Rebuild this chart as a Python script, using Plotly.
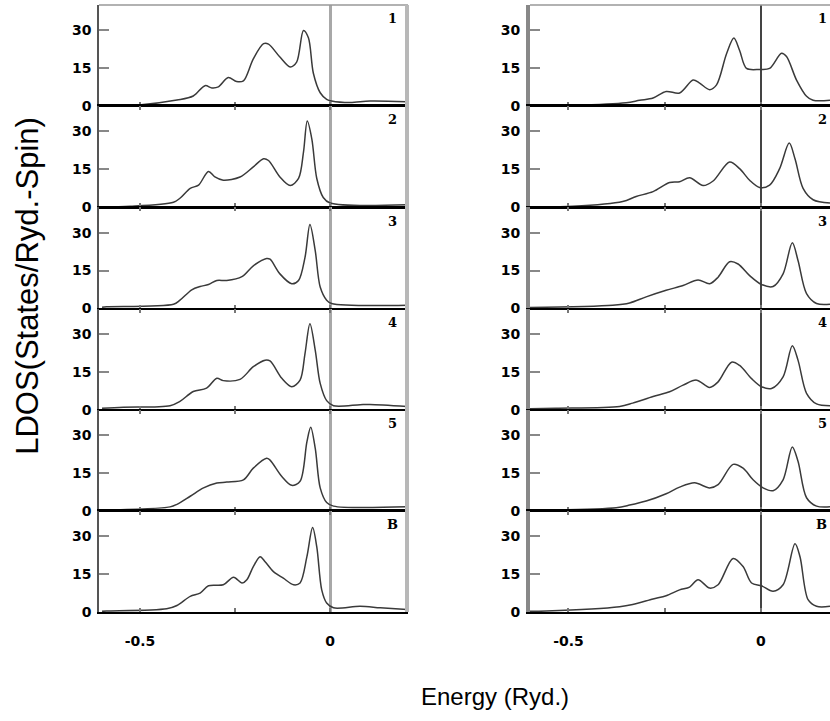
import plotly.graph_objects as go

# ---------------- data ----------------
panel_labels = ["1", "2", "3", "4", "5", "B"]
y_tick_vals = [0, 15, 30]
y_tick_text = ["0", "15", "30"]
x_tick_vals = [-0.5, -0.25, 0]
x_tick_text = ["-0.5", "", "0"]

# left column (six panels)
e_L1 = [-0.60, -0.509, -0.403, -0.360, -0.329, -0.311, -0.294, -0.268, -0.246, -0.228, -0.202, -0.175, -0.162, -0.132, -0.105, -0.088, -0.070, -0.057, -0.044, -0.026, -0.009, 0.004, 0.053, 0.105, 0.202]
d_L1 = [0.2, 0.4, 2.4, 4.0, 8.1, 7.2, 7.6, 11.3, 9.7, 10.0, 18.7, 24.7, 24.5, 19.4, 15.5, 17.4, 29.9, 27.0, 13.0, 5.3, 2.7, 2.0, 1.4, 2.0, 1.7]

e_L2 = [-0.60, -0.526, -0.412, -0.395, -0.368, -0.346, -0.320, -0.303, -0.281, -0.237, -0.202, -0.175, -0.162, -0.132, -0.105, -0.083, -0.070, -0.060, -0.048, -0.035, -0.018, 0.0, 0.202]
d_L2 = [0.2, 0.4, 2.0, 3.6, 7.5, 8.8, 14.2, 12.0, 10.7, 12.0, 16.0, 19.2, 18.5, 12.0, 8.6, 11.4, 21.8, 34.1, 27.0, 11.4, 3.9, 1.7, 1.0]

e_L3 = [-0.60, -0.588, -0.412, -0.395, -0.364, -0.342, -0.320, -0.298, -0.272, -0.232, -0.202, -0.167, -0.158, -0.132, -0.101, -0.083, -0.066, -0.053, -0.039, -0.026, -0.009, 0.004, 0.202]
d_L3 = [0.5, 0.7, 1.7, 3.3, 7.4, 8.7, 9.5, 11.1, 11.1, 12.6, 16.9, 19.8, 19.5, 13.7, 9.8, 11.1, 20.2, 33.2, 22.8, 8.5, 3.3, 2.0, 1.3]

e_L4 = [-0.60, -0.544, -0.421, -0.395, -0.360, -0.325, -0.298, -0.281, -0.237, -0.202, -0.171, -0.158, -0.127, -0.101, -0.079, -0.066, -0.053, -0.039, -0.026, -0.009, 0.009, 0.079, 0.105, 0.202]
d_L4 = [0.6, 1.0, 1.6, 3.3, 7.2, 8.5, 12.4, 11.5, 12.0, 17.0, 19.6, 19.3, 12.4, 9.1, 11.7, 22.2, 34.0, 23.5, 10.4, 3.6, 1.6, 2.0, 2.1, 1.3]

e_L5 = [-0.605, -0.421, -0.403, -0.368, -0.333, -0.298, -0.272, -0.228, -0.202, -0.167, -0.158, -0.127, -0.101, -0.079, -0.061, -0.051, -0.039, -0.026, -0.009, 0.009, 0.202]
d_L5 = [0.3, 1.6, 2.6, 5.8, 9.1, 11.0, 11.4, 12.3, 16.9, 20.8, 20.1, 13.6, 10.1, 11.7, 27.3, 33.1, 24.7, 9.1, 3.3, 1.9, 1.6]

e_L6 = [-0.60, -0.588, -0.430, -0.403, -0.368, -0.342, -0.320, -0.281, -0.254, -0.232, -0.219, -0.202, -0.184, -0.171, -0.149, -0.123, -0.096, -0.079, -0.061, -0.046, -0.035, -0.022, -0.009, 0.009, 0.079, 0.132, 0.202]
d_L6 = [0.3, 0.4, 1.3, 2.6, 6.2, 7.5, 10.4, 10.8, 13.8, 11.5, 12.8, 18.0, 21.9, 19.9, 16.0, 13.4, 10.8, 11.5, 21.9, 33.4, 25.8, 8.8, 3.6, 1.7, 2.3, 1.7, 1.0]

# right column (six panels)
e_R1 = [-0.60, -0.489, -0.350, -0.315, -0.280, -0.246, -0.211, -0.176, -0.159, -0.133, -0.115, -0.089, -0.070, -0.055, -0.037, -0.003, 0.023, 0.054, 0.067, 0.093, 0.119, 0.136, 0.180]
d_R1 = [0.2, 0.3, 1.3, 2.3, 3.2, 5.8, 5.2, 10.3, 9.1, 6.5, 8.4, 20.7, 26.9, 22.0, 14.9, 14.5, 14.9, 20.9, 19.6, 10.3, 3.9, 2.3, 2.3]

e_R2 = [-0.60, -0.489, -0.359, -0.324, -0.280, -0.237, -0.211, -0.185, -0.150, -0.124, -0.081, -0.055, -0.029, -0.003, 0.023, 0.049, 0.074, 0.089, 0.110, 0.136, 0.180]
d_R2 = [0.2, 0.4, 2.3, 4.3, 6.2, 9.8, 10.1, 11.7, 8.6, 10.4, 17.9, 15.3, 10.7, 7.8, 8.8, 15.3, 25.4, 19.2, 7.5, 3.0, 1.7]

e_R3 = [-0.60, -0.385, -0.341, -0.298, -0.246, -0.202, -0.163, -0.133, -0.111, -0.081, -0.059, -0.029, 0.002, 0.032, 0.058, 0.082, 0.097, 0.119, 0.145, 0.180]
d_R3 = [0.4, 1.3, 2.2, 4.6, 7.2, 9.1, 11.3, 9.8, 12.4, 18.5, 17.6, 13.0, 9.5, 8.7, 13.7, 26.0, 18.9, 5.9, 2.0, 1.7]

e_R4 = [-0.60, -0.532, -0.367, -0.333, -0.280, -0.237, -0.202, -0.167, -0.133, -0.111, -0.076, -0.055, -0.024, 0.002, 0.028, 0.058, 0.082, 0.097, 0.119, 0.145, 0.180]
d_R4 = [0.4, 0.6, 1.3, 2.6, 5.2, 7.1, 9.7, 11.7, 8.8, 11.0, 18.8, 17.5, 12.3, 9.1, 8.4, 13.0, 25.3, 19.5, 6.5, 2.3, 1.6]

e_R5 = [-0.60, -0.558, -0.376, -0.341, -0.298, -0.246, -0.211, -0.172, -0.133, -0.111, -0.072, -0.046, -0.020, 0.006, 0.032, 0.058, 0.082, 0.097, 0.119, 0.145, 0.180]
d_R5 = [0.2, 0.3, 1.3, 2.3, 3.9, 6.8, 9.4, 11.1, 9.1, 10.4, 18.4, 16.9, 12.3, 9.1, 8.0, 12.3, 25.3, 19.5, 5.2, 1.9, 1.6]

e_R6 = [-0.60, -0.558, -0.367, -0.333, -0.280, -0.246, -0.211, -0.185, -0.163, -0.133, -0.111, -0.072, -0.046, -0.024, 0.002, 0.032, 0.058, 0.089, 0.102, 0.123, 0.145, 0.180]
d_R6 = [0.3, 0.4, 2.1, 3.0, 5.2, 6.5, 8.8, 9.9, 12.8, 9.5, 10.8, 21.2, 18.0, 11.5, 10.4, 8.2, 10.8, 27.0, 21.9, 4.9, 2.3, 2.3]

left_series = [(e_L1, d_L1), (e_L2, d_L2), (e_L3, d_L3), (e_L4, d_L4), (e_L5, d_L5), (e_L6, d_L6)]
right_series = [(e_R1, d_R1), (e_R2, d_R2), (e_R3, d_R3), (e_R4, d_R4), (e_R5, d_R5), (e_R6, d_R6)]

# ---------------- layout geometry ----------------
W, H = 830, 721
TOP = 5.0
PH = 102.33
LEFT_X = (99, 408)
RIGHT_X = (530, 830)
LEFT_RANGE = [-0.608, 0.205]
RIGHT_RANGE = [-0.6, 0.18]
Y_RANGE = [0, 40]

tick_font = dict(family="DejaVu Sans", size=14, color="black", weight="bold")
label_font = dict(family="DejaVu Serif", size=13, color="black", weight="bold")

fig = go.Figure()
layout = dict(
    width=W, height=H,
    margin=dict(l=0, r=0, t=0, b=0, pad=0),
    paper_bgcolor="white", plot_bgcolor="white",
    showlegend=False,
)
annotations = []
shapes = []


def ydom(r):
    return [1 - (TOP + (r + 1) * PH) / H, 1 - (TOP + r * PH) / H]


for col, (series, xpx, xr) in enumerate([(left_series, LEFT_X, LEFT_RANGE),
                                         (right_series, RIGHT_X, RIGHT_RANGE)]):
    for r, (ex, dy) in enumerate(series):
        n = col * 6 + r + 1
        xa = "x" if n == 1 else f"x{n}"
        ya = "y" if n == 1 else f"y{n}"
        fig.add_trace(go.Scatter(
            x=ex, y=dy, mode="lines", xaxis=xa, yaxis=ya,
            line=dict(color="#3a3a3a", width=1.5, shape="spline", smoothing=0.9),
            hoverinfo="skip"))
        xkey = "xaxis" if n == 1 else f"xaxis{n}"
        ykey = "yaxis" if n == 1 else f"yaxis{n}"
        if r == 1:
            lw = 2
        elif r == 5:
            lw = 1.5
        else:
            lw = 1
        layout[xkey] = dict(
            domain=[xpx[0] / W, xpx[1] / W], range=xr, anchor=ya,
            showgrid=False, showline=True, linecolor="black",
            linewidth=lw,
            mirror="ticks" if r > 0 else False,
            ticks="inside", ticklen=4, tickwidth=1.5, tickcolor="#777",
            tickvals=x_tick_vals, ticktext=x_tick_text,
            showticklabels=(r == 5), tickfont=tick_font,
            ticklabelstandoff=15,
            zeroline=True,
            zerolinecolor="#a8a8a8" if col == 0 else "#444",
            zerolinewidth=3 if col == 0 else 1.5,
            fixedrange=True,
        )
        layout[ykey] = dict(
            domain=ydom(r), range=Y_RANGE, anchor=xa,
            showgrid=False, zeroline=False,
            showline=True,
            linecolor="#555" if col == 0 else "#888",
            linewidth=1.5 if col == 0 else 4,
            ticks="inside", ticklen=10, tickwidth=1.5, tickcolor="#888",
            tickvals=y_tick_vals, ticktext=y_tick_text,
            tickfont=tick_font, ticklabelstandoff=3,
            fixedrange=True,
        )
        if col == 0:
            annotations.append(dict(
                text=panel_labels[r], showarrow=False,
                xref=f"{xa} domain", yref=f"{ya} domain",
                x=0.951, y=1 - 14 / PH,
                xanchor="center", yanchor="middle", font=label_font))
        else:
            annotations.append(dict(
                text=panel_labels[r], showarrow=False,
                xref="paper", yref=f"{ya} domain",
                x=829 / W, y=1 - 14 / PH,
                xanchor="right", yanchor="middle", font=label_font))

# frame pieces not covered by axes
shapes.append(dict(type="line", xref="paper", yref="paper",
                   x0=LEFT_X[0] / W, x1=LEFT_X[1] / W, y0=1 - TOP / H, y1=1 - TOP / H,
                   line=dict(color="#999", width=1.5)))
shapes.append(dict(type="line", xref="paper", yref="paper",
                   x0=RIGHT_X[0] / W, x1=1, y0=1 - TOP / H, y1=1 - TOP / H,
                   line=dict(color="#999", width=1.5)))
shapes.append(dict(type="line", xref="paper", yref="paper",
                   x0=(LEFT_X[1] - 1) / W, x1=(LEFT_X[1] - 1) / W,
                   y0=1 - (TOP + 6 * PH) / H, y1=1 - TOP / H,
                   line=dict(color="#b8b8b8", width=4)))

annotations.append(dict(
    text="LDOS(States/Ryd.-Spin)", showarrow=False, textangle=-90,
    xref="paper", yref="paper", x=28 / W, y=1 - 289 / H,
    xanchor="center", yanchor="middle",
    font=dict(family="Liberation Sans", size=31, color="black")))
annotations.append(dict(
    text="Energy (Ryd.)", showarrow=False,
    xref="paper", yref="paper", x=495 / W, y=1 - 704 / H,
    xanchor="center", yanchor="middle",
    font=dict(family="Liberation Sans", size=24, color="black")))

layout["annotations"] = annotations
layout["shapes"] = shapes
fig.update_layout(**layout)
fig.write_html(
    "out.html",
    config={"displayModeBar": False},
    post_script="document.body.style.margin='0px';document.body.style.overflow='hidden';",
)
